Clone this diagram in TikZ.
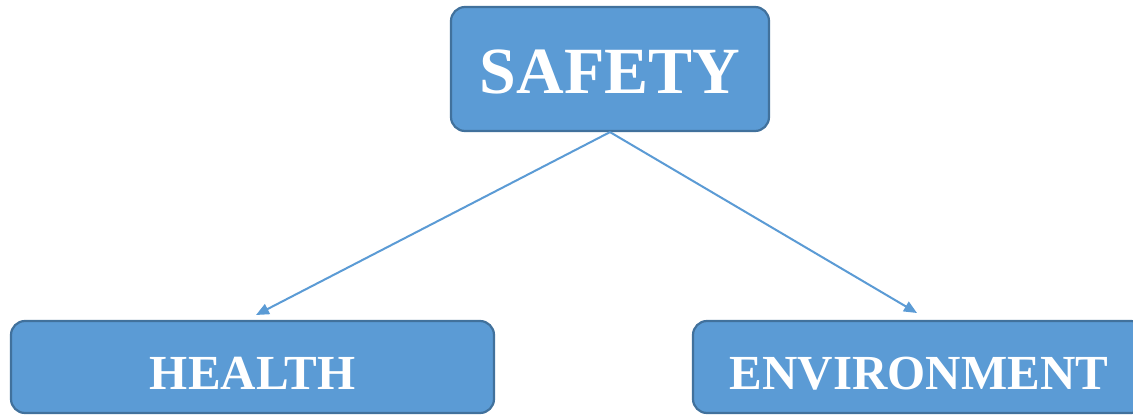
\documentclass[tikz,border=0pt]{standalone}
\usepackage{fontspec}
\setmainfont{Liberation Serif}
\usetikzlibrary{arrows.meta}
\definecolor{boxfill}{HTML}{5B9BD5}
\definecolor{boxline}{HTML}{41719C}
\definecolor{arrowc}{HTML}{5B9BD5}
\begin{document}
\begin{tikzpicture}[x=1pt,y=-1pt,
  box/.style={draw=boxline, line width=2.2pt, fill=boxfill, rounded corners=14pt,
    inner sep=0pt, text=white},
  conn/.style={draw=arrowc, line width=2pt, -{Triangle[length=13pt,width=11pt]}}]
\clip (0,0) rectangle (1133,415);
\fill[white] (0,0) rectangle (1133,415);
\node[box, minimum width=318pt, minimum height=124pt, text height=48pt, text depth=0pt,
  font=\fontsize{66}{66}\selectfont\bfseries] (safety) at (610,69) {SAFETY};
\node[box, minimum width=483pt, minimum height=92pt, text height=44pt, text depth=0pt,
  font=\fontsize{49}{49}\selectfont\bfseries] (health) at (252.5,367) {HEALTH};
\node[box, minimum width=452pt, minimum height=92pt, text height=44pt, text depth=0pt,
  font=\fontsize{49}{49}\selectfont\bfseries] (env) at (919,367) {ENVIRONMENT};
\coordinate (hend) at (256,315);
\coordinate (eend) at (917,313);
\draw[conn] (safety.south) -- (hend);
\draw[conn] (safety.south) -- (eend);
\end{tikzpicture}
\end{document}
